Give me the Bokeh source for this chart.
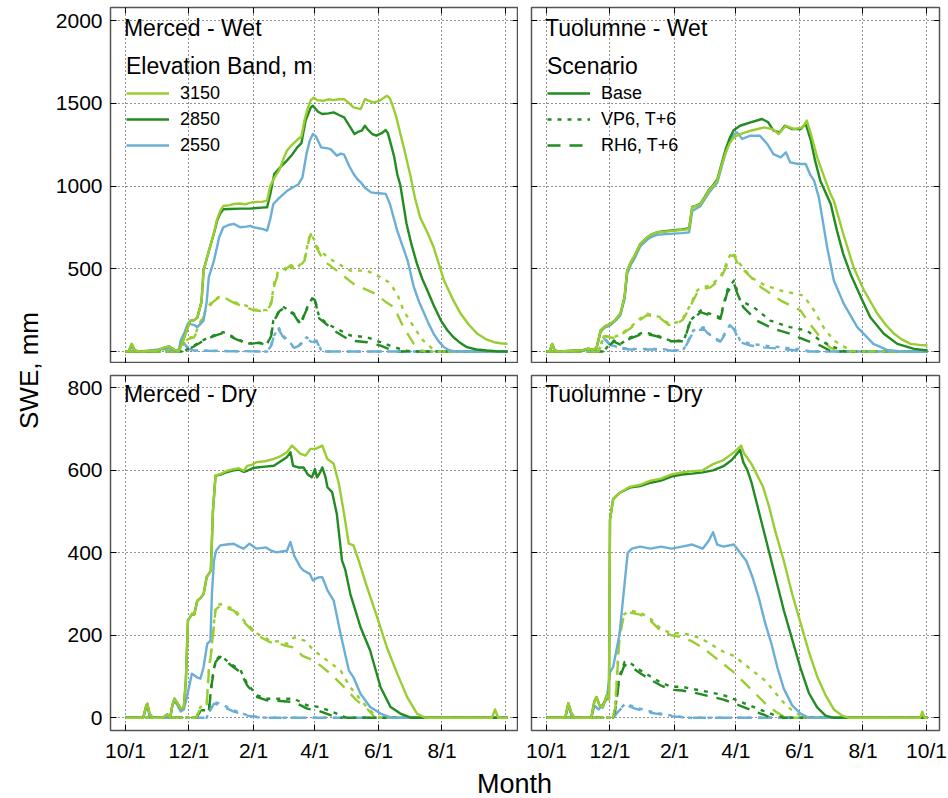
import math
from bokeh.plotting import figure
from bokeh.models import Range1d, FixedTicker, LinearAxis, Label, Legend, LegendItem
from bokeh.layouts import row, column
from bokeh.embed import file_html
from bokeh.resources import INLINE

# ---- axis definitions -------------------------------------------------------
TICK_DAYS = [0, 61, 123, 182, 243, 304, 365]          # days after Oct 1
TICK_LABELS = ["10/1", "12/1", "2/1", "4/1", "6/1", "8/1", "10/1"]
WET_TICKS = [0, 500, 1000, 1500, 2000]
DRY_TICKS = [0, 200, 400, 600, 800]
BANDS = ["3150", "2850", "2550"]
SCENARIOS = ["Base", "VP6, T+6", "RH6, T+6"]

# ---- SWE (mm) by day of water year: (day, swe) ------------------------------
# Merced - Wet
MW_BASE_3150 = [(0,0),(3,0),(6,45),(9,5),(14,0),(30,5),(38,25),(42,30),(47,10),(51,0),(55,60),(58,115),(62,185),(66,190),(69,205),(73,300),(75,490),(78,560),(82,650),(85,720),(88,800),(91,850),(94,880),(100,885),(104,892),(110,895),(115,890),(120,900),(126,905),(131,905),(136,912),(139,1000),(143,1050),(148,1100),(152,1170),(155,1214),(160,1250),(165,1280),(169,1300),(172,1400),(175,1470),(178,1520),(181,1535),(184,1520),(190,1516),(195,1525),(200,1520),(205,1525),(210,1526),(215,1500),(219,1476),(223,1470),(226,1466),(230,1526),(234,1515),(238,1506),(242,1512),(245,1520),(251,1547),(254,1530),(256,1497),(260,1420),(264,1317),(269,1190),(274,1053),(278,930),(283,811),(290,720),(296,630),(301,530),(306,429),(314,320),(322,228),(330,160),(338,107),(346,75),(354,56),(360,50),(367,46)]
MW_BASE_2850 = [(0,0),(3,0),(6,45),(9,5),(14,0),(30,5),(38,25),(42,30),(47,10),(51,0),(55,60),(58,115),(62,185),(66,190),(69,205),(73,300),(75,490),(78,560),(82,650),(85,715),(88,790),(91,835),(94,860),(100,862),(110,864),(120,864),(126,868),(131,870),(136,872),(139,950),(143,1075),(148,1110),(155,1154),(160,1190),(165,1234),(169,1260),(173,1396),(178,1476),(180,1486),(185,1450),(189,1436),(195,1440),(200,1446),(205,1430),(210,1416),(216,1355),(220,1315),(224,1330),(227,1335),(230,1365),(233,1340),(237,1315),(241,1305),(246,1320),(250,1339),(252,1320),(254,1275),(258,1180),(261,1073),(264,1005),(270,771),(275,640),(280,530),(285,440),(290,369),(296,280),(303,187),(309,130),(315,86),(321,55),(328,26),(337,12),(347,6),(356,2),(367,0)]
MW_BASE_2550 = [(0,0),(3,0),(6,30),(9,5),(14,0),(38,15),(42,20),(47,5),(51,0),(53,66),(57,120),(60,170),(66,160),(69,147),(75,187),(78,300),(80,449),(85,550),(90,691),(94,751),(99,765),(104,772),(110,751),(116,755),(120,760),(123,751),(128,745),(132,740),(136,731),(139,800),(142,892),(148,930),(155,970),(160,990),(166,1010),(170,1053),(174,1200),(177,1275),(180,1315),(183,1300),(188,1234),(193,1230),(197,1224),(203,1184),(207,1196),(210,1190),(215,1120),(219,1075),(223,1040),(226,1023),(230,990),(236,962),(241,958),(246,955),(250,953),(254,892),(258,800),(261,731),(266,640),(271,550),(277,389),(282,300),(287,228),(291,170),(296,107),(301,60),(306,26),(311,8),(316,0),(367,0)]
MW_VP6_3150 = [(0,0),(50,0),(55,40),(60,80),(66,90),(72,180),(78,260),(84,310),(90,330),(95,325),(100,310),(106,295),(111,285),(117,275),(123,255),(130,250),(136,250),(140,300),(143,420),(147,490),(153,500),(158,530),(163,500),(167,520),(172,560),(176,680),(178,713),(181,680),(186,610),(199,550),(216,489),(232,489),(245,449),(253,419),(261,349),(267,248),(277,147),(286,66),(296,10),(300,0),(367,0)]
MW_RH6_3150 = [(0,0),(50,0),(55,35),(60,75),(66,86),(72,170),(78,250),(84,300),(90,328),(95,320),(100,308),(106,290),(111,278),(117,265),(123,250),(130,245),(136,248),(140,290),(143,400),(147,480),(153,490),(158,520),(163,495),(167,510),(172,550),(176,670),(178,710),(181,660),(190,550),(203,489),(219,409),(226,389),(240,349),(250,300),(258,268),(267,147),(277,46),(283,10),(288,0),(367,0)]
MW_VP6_2850 = [(0,0),(55,0),(60,15),(66,36),(72,60),(80,86),(88,105),(94,117),(100,100),(106,80),(111,66),(117,46),(122,52),(127,56),(132,50),(136,46),(140,100),(142,187),(148,250),(152,268),(158,245),(162,228),(168,167),(172,230),(176,288),(180,328),(182,318),(186,207),(194,167),(200,147),(216,97),(232,86),(245,56),(258,26),(270,5),(275,0),(367,0)]
MW_RH6_2850 = [(0,0),(55,0),(60,12),(66,32),(72,55),(80,80),(88,100),(94,112),(100,95),(106,75),(111,62),(117,42),(122,48),(127,52),(132,46),(136,42),(140,95),(142,180),(148,245),(152,262),(158,240),(162,222),(168,160),(172,225),(176,280),(180,320),(182,310),(186,200),(194,160),(200,127),(216,66),(232,56),(245,36),(255,10),(262,0),(367,0)]
MW_VP6_2550 = [(0,0),(50,0),(53,40),(55,66),(60,20),(66,6),(80,5),(100,3),(120,2),(136,0),(140,40),(142,86),(147,147),(151,100),(156,66),(162,26),(167,40),(174,86),(178,66),(184,66),(188,6),(192,0),(367,0)]
MW_RH6_2550 = [(0,0),(50,0),(53,35),(55,60),(60,18),(66,5),(80,4),(100,2),(120,1),(136,0),(140,35),(142,80),(147,135),(151,92),(156,60),(162,22),(167,35),(174,78),(178,60),(184,58),(188,4),(192,0),(367,0)]

# Tuolumne - Wet
TW_BASE_3150 = [(0,0),(3,0),(5.5,46),(8,5),(12,0),(35,8),(40,18),(44,10),(48,20),(52,127),(56,150),(61.5,167),(66,190),(71,228),(75,330),(77.5,489),(81,540),(84,570),(90,650),(96.7,690),(100,705),(106,721),(114,725),(122,731),(130,735),(137,741),(140,872),(144,880),(148,892),(152,930),(156,973),(160,1000),(164,1033),(168,1120),(172,1200),(176,1260),(180,1295),(186,1315),(196,1335),(209,1355),(217,1345),(223,1315),(230,1365),(238,1345),(246,1355),(250,1396),(254,1315),(260,1174),(268,1033),(273,950),(276,912),(286,691),(295,509),(305,369),(318,228),(326,160),(334,107),(342,70),(350,46),(358,40),(366,36)]
TW_BASE_2850 = [(0,0),(3,0),(5.5,46),(8,5),(12,0),(35,8),(40,18),(44,10),(48,20),(52,127),(56,150),(61.5,167),(66,190),(71,228),(75,330),(77.5,489),(81,540),(84,570),(90,650),(96.7,690),(100,705),(106,721),(114,727),(122,733),(130,738),(137,745),(140,875),(144,882),(148,895),(152,935),(156,978),(160,1005),(164,1040),(168,1130),(172,1220),(176,1290),(180,1340),(186,1365),(196,1386),(207,1406),(213,1386),(218,1335),(224,1325),(229,1365),(236,1345),(244,1345),(249,1376),(254,1275),(258,1154),(263,1033),(273,892),(279,731),(285,590),(292,469),(302,328),(311,207),(324,107),(337,46),(353,16),(366,6)]
TW_BASE_2550 = [(0,0),(3,0),(5.5,40),(8,5),(12,0),(35,6),(40,15),(44,8),(48,18),(52,120),(56,145),(61.5,160),(66,185),(71,220),(75,320),(77.5,470),(81,525),(84,555),(90,635),(96.7,675),(100,690),(106,705),(114,710),(122,713),(130,716),(137,720),(140,850),(148,880),(156,960),(164,1020),(168,1110),(172,1200),(176,1270),(180,1310),(183,1325),(188,1285),(196,1305),(205,1305),(212,1255),(218,1194),(225,1174),(230,1204),(234,1144),(242,1134),(249,1134),(253,1073),(257,1033),(261.6,932),(269.6,630),(276,429),(285.6,288),(298.5,147),(314,46),(327,10),(340,0),(366,0)]
TW_VP6_3150 = [(0,0),(50,0),(55,97),(60,90),(64.7,86),(70,100),(80.7,147),(90,200),(96.7,228),(103,220),(109.5,207),(117.5,167),(125.5,177),(131,200),(137,268),(144.7,369),(150,390),(157.5,399),(167,449),(172,520),(176.8,590),(180,600),(183,550),(190,500),(196,449),(210,400),(225,369),(247,338),(257,248),(266,147),(276,66),(289,18),(296,0),(366,0)]
TW_RH6_3150 = [(0,0),(50,0),(55,92),(60,86),(64.7,82),(70,95),(80.7,140),(90,192),(96.7,220),(103,212),(109.5,200),(117.5,160),(125.5,170),(131,192),(137,258),(144.7,355),(150,378),(157.5,388),(167,438),(172,505),(176.8,575),(180,585),(183,540),(190,489),(206,389),(225,308),(244,248),(253,167),(263,86),(272,26),(280,0),(366,0)]
TW_VP6_2850 = [(0,0),(55,0),(60,40),(64.7,66),(71,46),(80.7,86),(93.5,117),(106,97),(119,66),(132,66),(138,187),(148,248),(157.5,228),(167,207),(173.5,369),(180,429),(183,369),(186,308),(199,268),(215,187),(234,147),(250,127),(263,66),(276,26),(287,0),(366,0)]
TW_RH6_2850 = [(0,0),(55,0),(60,36),(64.7,60),(71,42),(80.7,80),(93.5,110),(106,92),(119,62),(132,62),(138,178),(148,238),(157.5,218),(167,198),(173.5,355),(180,415),(183,355),(189,268),(202,187),(218,137),(234,107),(250,66),(263,36),(272,6),(276,0),(366,0)]
TW_VP6_2550 = [(0,0),(50,0),(55,86),(60,50),(68,26),(80,16),(110,16),(122,6),(132,16),(141,127),(151,147),(159,86),(167,66),(176.8,167),(180,147),(186,66),(196,46),(209,36),(225,26),(241,16),(254,0),(366,0)]
TW_RH6_2550 = [(0,0),(50,0),(55,80),(60,45),(68,22),(80,12),(110,12),(122,4),(132,12),(141,118),(151,138),(159,80),(167,60),(176.8,155),(180,135),(186,56),(196,36),(209,26),(225,16),(241,6),(250,0),(366,0)]

# Merced - Dry
MD_BASE_3150 = [(0,0),(17,0),(20,30),(21,34),(23,10),(26,0),(36,0),(40,8),(43,0),(45,30),(47,46),(50,35),(53,22),(56,25),(58,90),(60,236),(64,252),(66,250),(69,284),(72,290),(75,300),(78,341),(82,357),(84,502),(86.5,587),(92,592),(97.7,599),(104,603),(109,605),(113.6,599),(117,611),(122,614),(126,620),(134,622),(142.5,628),(148,633),(155,644),(160,660),(164,650),(168,640),(173,636),(177.7,652),(182.5,652),(189,660),(193.7,628),(200,616),(205,567),(210,494),(214.5,422),(219,418),(224,381),(232,317),(241.7,244),(251,171),(261,107),(270.6,50),(280,10),(288,0),(352,0),(355,20),(358,0),(367,0)]
MD_BASE_2850 = [(0,0),(17,0),(20,30),(21,34),(23,10),(26,0),(36,0),(40,8),(43,0),(45,30),(47,46),(50,35),(53,22),(56,25),(58,90),(60,236),(64,252),(66,250),(69,284),(72,290),(75,300),(78,341),(82,357),(84,502),(86.5,587),(92,590),(97.7,596),(104,600),(109,602),(113.6,596),(117,599),(122,605),(126,607),(134,609),(142.5,611),(148,620),(155,632),(158.5,644),(161,611),(166,607),(171,607),(175,590),(179,583),(182,603),(184,583),(187,595),(189,607),(192,585),(194,559),(198.5,547),(203,494),(208,381),(211,360),(216,300),(225.7,220),(235,163),(245,74),(254.6,26),(264,10),(274,0),(367,0)]
MD_BASE_2550 = [(0,0),(17,0),(20,25),(21,30),(23,5),(26,0),(43,0),(45,30),(47,40),(50,30),(53,15),(56,20),(59,50),(63.8,107),(68.6,98),(72,95),(75,123),(78.5,179),(81.6,187),(83,300),(85,381),(87,405),(91,418),(97,420),(104,422),(109,415),(113.6,410),(119,422),(126,410),(135,413),(140,405),(145,401),(150,403),(155,405),(158.5,426),(162,393),(168,365),(171,357),(177,349),(180,333),(185,340),(189,341),(194,309),(200,284),(206.5,204),(214.5,115),(219,98),(225.7,58),(235,26),(245,10),(255,0),(367,0)]
MD_VP6_3150 = [(0,0),(68,0),(72,26),(78,34),(80,115),(83,179),(86.5,268),(91,276),(97,270),(104,264),(113.6,236),(120,220),(126.5,204),(133,195),(139,187),(147,185),(155,179),(162,195),(172,187),(181,163),(193.6,139),(206.5,115),(216,74),(229,34),(238,10),(245,0),(367,0)]
MD_RH6_3150 = [(0,0),(68,0),(72,24),(78,32),(80,110),(83,172),(86.5,262),(91,272),(97,266),(104,260),(113.6,232),(120,216),(126.5,200),(133,191),(139,183),(147,180),(155,174),(162,170),(170,150),(181,139),(197,107),(210,74),(222,42),(232,22),(240,0),(367,0)]
MD_VP6_2850 = [(0,0),(68,0),(72,18),(80,18),(83,90),(86.5,139),(91,151),(101,131),(110.5,115),(117,82),(126.5,54),(136,46),(152,46),(162,46),(174.5,30),(186,26),(195,18),(205,8),(212,0),(367,0)]
MD_RH6_2850 = [(0,0),(68,0),(72,16),(80,16),(83,85),(86.5,135),(91,148),(101,128),(110.5,110),(117,78),(126.5,50),(136,42),(152,40),(162,38),(174.5,22),(186,16),(195,8),(203,0),(367,0)]
MD_VP6_2550 = [(0,0),(78,0),(80,14),(85,38),(91,34),(104,18),(117,6),(127,2),(135,0),(367,0)]
MD_RH6_2550 = [(0,0),(78,0),(80,12),(85,34),(91,30),(104,15),(117,5),(127,1),(135,0),(367,0)]

# Tuolumne - Dry
TD_BASE_3150 = [(0,0),(18,0),(21,35),(24,10),(27,0),(43,0),(46,40),(48,50),(51,30),(54,25),(58,55),(60,45),(61,480),(64,530),(70,545),(80,560),(90,565),(100,575),(110,580),(120,590),(130,595),(140,598),(150,600),(160,615),(170,625),(178,640),(183,650),(187,660),(190,640),(193,630),(197,615),(202,590),(208,560),(214,510),(220,450),(228,380),(236,300),(244,230),(252,160),(260,100),(268,55),(276,20),(284,5),(290,0),(359,0),(361,15),(363,0),(366,0)]
TD_BASE_2850 = [(0,0),(18,0),(21,35),(24,10),(27,0),(43,0),(46,40),(48,50),(51,30),(54,25),(58,55),(60,45),(61,480),(64,530),(70,545),(80,558),(90,562),(100,570),(110,575),(120,585),(130,590),(140,592),(150,595),(160,600),(170,610),(178,625),(183,640),(186,650),(189,620),(193,600),(197,570),(202,520),(208,460),(214,400),(220,340),(228,260),(236,190),(244,120),(252,60),(260,25),(268,5),(275,0),(366,0)]
TD_BASE_2550 = [(0,0),(18,0),(21,30),(24,5),(27,0),(43,0),(46,30),(50,20),(58,45),(61,110),(64,123),(70,200),(74,300),(78,400),(82,410),(90,415),(100,410),(110,415),(120,410),(130,415),(140,420),(150,410),(156,430),(160,450),(164,420),(170,415),(180,420),(186,400),(192,380),(198,340),(204,290),(210,230),(216,180),(222,120),(228,70),(236,30),(244,10),(252,0),(366,0)]
TD_VP6_3150 = [(0,0),(64,0),(66,30),(70,200),(74,250),(80,260),(90,255),(100,240),(110,215),(120,205),(130,205),(140,200),(150,190),(160,175),(170,160),(180,150),(190,130),(200,110),(210,90),(220,60),(230,30),(240,10),(250,0),(366,0)]
TD_RH6_3150 = [(0,0),(64,0),(66,25),(70,190),(74,245),(80,255),(90,250),(100,235),(110,210),(120,200),(130,195),(140,185),(150,170),(160,150),(170,130),(180,110),(190,85),(200,60),(210,35),(220,15),(230,0),(366,0)]
TD_VP6_2850 = [(0,0),(64,0),(66,20),(70,100),(75,135),(82,130),(90,115),(100,100),(110,85),(120,75),(130,75),(140,70),(150,65),(160,60),(170,55),(180,45),(190,35),(200,25),(210,15),(220,5),(230,0),(366,0)]
TD_RH6_2850 = [(0,0),(64,0),(66,18),(70,95),(75,128),(82,122),(90,108),(100,92),(110,78),(120,68),(130,66),(140,62),(150,56),(160,50),(170,44),(180,35),(190,25),(200,15),(210,6),(215,0),(366,0)]
TD_VP6_2550 = [(0,0),(64,0),(70,20),(76,35),(85,25),(100,15),(120,5),(135,0),(366,0)]
TD_RH6_2550 = [(0,0),(64,0),(70,18),(76,32),(85,22),(100,12),(120,4),(135,0),(366,0)]

# ---- styling ----------------------------------------------------------------
FONT = "Liberation Sans"
COLORS = {"3150": "#9ACD32", "2850": "#228B22", "2550": "#6BAED6"}
DASHES = {"Base": "solid", "VP6, T+6": "4 6", "RH6, T+6": "13 9"}
X_RANGE = (-14.4, 377.5)
WET_RANGE = (-72.5, 2080)
DRY_RANGE = (-31, 830)
FRAME_W = 408


def style_axis(ax, labelled, unlabelled, overrides=None):
    """Inward ticks; `labelled` ticks carry text, `unlabelled` ones are marks only."""
    ax.ticker = FixedTicker(ticks=labelled, minor_ticks=unlabelled)
    for kind in ("major", "minor"):
        setattr(ax, f"{kind}_tick_in", 6)
        setattr(ax, f"{kind}_tick_out", 0)
        setattr(ax, f"{kind}_tick_line_color", "black")
        setattr(ax, f"{kind}_tick_line_width", 1)
    ax.axis_line_color = None
    ax.major_label_text_font = FONT
    ax.major_label_text_color = "black"
    ax.major_label_text_font_size = "21px"
    ax.major_label_standoff = 8 if labelled else 0
    if overrides:
        ax.major_label_overrides = overrides


def make_panel(series, title, title_y, y_range, y_ticks, frame_h, borders,
               x_lab, x_plain, y_lab, y_plain, x_over=None):
    left, right, top, bottom = borders
    p = figure(frame_width=FRAME_W, frame_height=frame_h,
               x_range=Range1d(*X_RANGE), y_range=Range1d(*y_range),
               output_backend="svg", toolbar_location=None,
               min_border_left=left, min_border_right=right,
               min_border_top=top, min_border_bottom=bottom)
    p.background_fill_color = "white"
    p.border_fill_color = "white"
    p.outline_line_color = "#555555"
    p.outline_line_width = 1.5

    style_axis(p.xaxis[0], x_lab, x_plain, x_over)
    style_axis(p.yaxis[0], y_lab, y_plain)
    top_ax = LinearAxis()
    right_ax = LinearAxis()
    style_axis(top_ax, [], TICK_DAYS)
    style_axis(right_ax, [], y_ticks)
    p.add_layout(top_ax, "above")
    p.add_layout(right_ax, "right")

    for g, ticks in ((p.xgrid[0], TICK_DAYS), (p.ygrid[0], y_ticks)):
        g.ticker = FixedTicker(ticks=ticks)
        g.grid_line_color = "black"
        g.grid_line_alpha = 0.85
        g.grid_line_dash = "1 3"
        g.grid_line_width = 1

    renderers = {}
    # scenario runs first, base runs on top
    for scen in ["RH6, T+6", "VP6, T+6", "Base"]:
        for band in ["2550", "2850", "3150"]:
            pts = series[(band, scen)]
            xs = [d for d, _ in pts]
            ys = [v for _, v in pts]
            r = p.line(xs, ys, line_color=COLORS[band], line_width=2.4,
                       line_dash=DASHES[scen], line_join="round")
            renderers[(band, scen)] = r

    p.add_layout(Label(x=-1.5, y=title_y, text=title, text_font=FONT,
                       text_font_size="23px", text_color="black",
                       text_baseline="middle"))
    return p, renderers


def pack(base, vp6, rh6):
    out = {}
    for band in BANDS:
        out[(band, "Base")] = base[band]
        out[(band, "VP6, T+6")] = vp6[band]
        out[(band, "RH6, T+6")] = rh6[band]
    return out


mw = pack({"3150": MW_BASE_3150, "2850": MW_BASE_2850, "2550": MW_BASE_2550},
          {"3150": MW_VP6_3150, "2850": MW_VP6_2850, "2550": MW_VP6_2550},
          {"3150": MW_RH6_3150, "2850": MW_RH6_2850, "2550": MW_RH6_2550})
tw = pack({"3150": TW_BASE_3150, "2850": TW_BASE_2850, "2550": TW_BASE_2550},
          {"3150": TW_VP6_3150, "2850": TW_VP6_2850, "2550": TW_VP6_2550},
          {"3150": TW_RH6_3150, "2850": TW_RH6_2850, "2550": TW_RH6_2550})
md = pack({"3150": MD_BASE_3150, "2850": MD_BASE_2850, "2550": MD_BASE_2550},
          {"3150": MD_VP6_3150, "2850": MD_VP6_2850, "2550": MD_VP6_2550},
          {"3150": MD_RH6_3150, "2850": MD_RH6_2850, "2550": MD_RH6_2550})
td = pack({"3150": TD_BASE_3150, "2850": TD_BASE_2850, "2550": TD_BASE_2550},
          {"3150": TD_VP6_3150, "2850": TD_VP6_2850, "2550": TD_VP6_2550},
          {"3150": TD_RH6_3150, "2850": TD_RH6_2850, "2550": TD_RH6_2550})

x_names = {d: lab for d, lab in zip(TICK_DAYS, TICK_LABELS)}

# the last 10/1 label is left off the left-hand panel (it would crowd the next panel)
p_mw, r_mw = make_panel(mw, "Merced - Wet", 1958, WET_RANGE, WET_TICKS, 356,
                        (60, 0, 7, 0), [], TICK_DAYS, WET_TICKS[1:], WET_TICKS[:1])
p_tw, r_tw = make_panel(tw, "Tuolumne - Wet", 1958, WET_RANGE, WET_TICKS, 356,
                        (13, 9, 7, 0), [], TICK_DAYS, [], WET_TICKS)
p_md, r_md = make_panel(md, "Merced - Dry", 786, DRY_RANGE, DRY_TICKS, 355,
                        (60, 0, 12, 32), TICK_DAYS[:-1], TICK_DAYS[-1:],
                        DRY_TICKS, [], x_over=x_names)
p_td, r_td = make_panel(td, "Tuolumne - Dry", 786, DRY_RANGE, DRY_TICKS, 355,
                        (13, 9, 12, 32), TICK_DAYS, [], [], DRY_TICKS,
                        x_over=x_names)


def add_legend(p, title, items, loc):
    leg = Legend(items=items, title=title, location=loc,
                 title_text_font=FONT, title_text_font_size="23px",
                 title_text_font_style="normal", title_text_color="black",
                 title_standoff=0,
                 label_text_font=FONT, label_text_font_size="18px",
                 label_text_color="black",
                 glyph_width=43, glyph_height=26, label_height=26,
                 label_standoff=11, spacing=0, padding=0, margin=0,
                 background_fill_alpha=0, border_line_alpha=0)
    p.add_layout(leg)


add_legend(p_mw, "Elevation Band, m",
           [LegendItem(label=b, renderers=[r_mw[(b, "Base")]]) for b in BANDS],
           (16, 205))
add_legend(p_tw, "Scenario",
           [LegendItem(label=s, renderers=[r_tw[("2850", s)]]) for s in SCENARIOS],
           (16, 205))

# shared axis titles
ylab = figure(width=50, height=798, x_range=Range1d(0, 50), y_range=Range1d(0, 798),
              x_axis_type=None, y_axis_type=None, output_backend="svg",
              toolbar_location=None, min_border=0)
ylab.outline_line_color = None
ylab.add_layout(Label(x=28, y=428, text="SWE, mm",
                      angle=math.pi / 2, text_align="center", text_baseline="middle",
                      text_font=FONT, text_font_size="26px", text_color="black"))

xlab = figure(width=898, height=36, x_range=Range1d(0, 898), y_range=Range1d(0, 36),
              x_axis_type=None, y_axis_type=None, output_backend="svg",
              toolbar_location=None, min_border=0)
xlab.outline_line_color = None
xlab.add_layout(Label(x=464, y=17, text="Month", text_align="center",
                      text_baseline="middle", text_font=FONT,
                      text_font_size="27px", text_color="black"))

layout = row(ylab, column(row(p_mw, p_tw), row(p_md, p_td), xlab))

open("out.html", "w").write(file_html(layout, INLINE))
